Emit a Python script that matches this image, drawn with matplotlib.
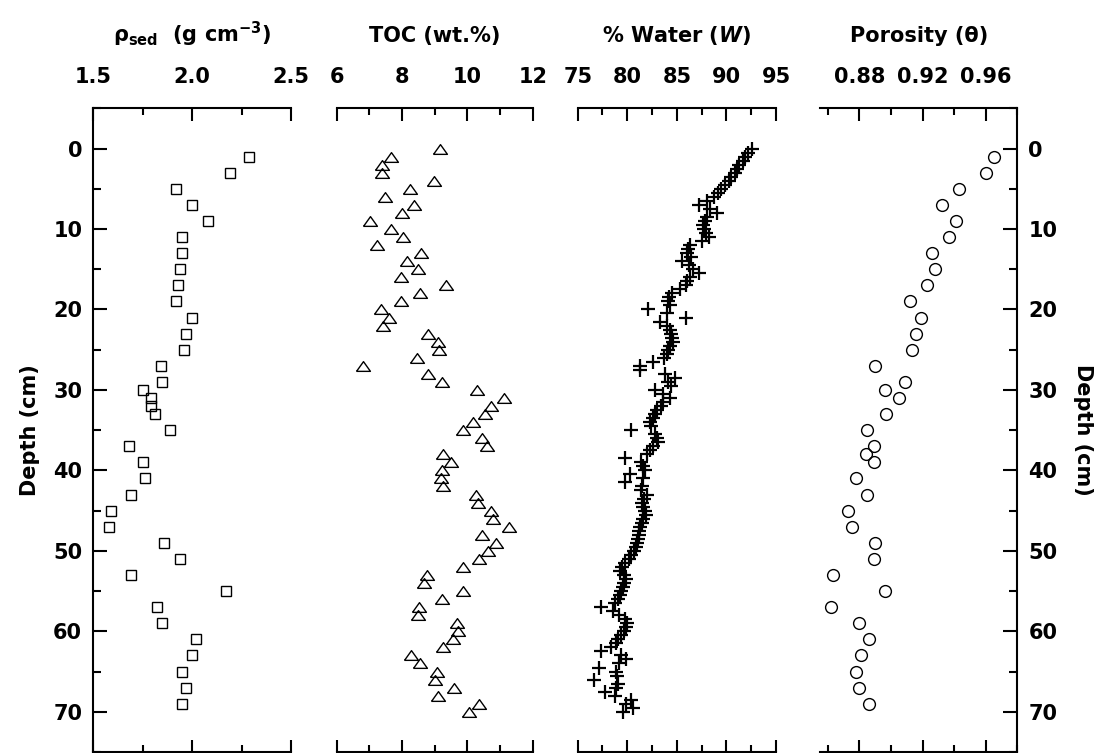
import matplotlib
matplotlib.use('Agg')
import matplotlib.pyplot as plt
import numpy as np
from matplotlib.ticker import MultipleLocator, FormatStrFormatter

# sediment density (g cm-3) vs depth (cm)
rho_depth = [1, 3, 5, 7, 9, 11, 13, 15, 17, 19, 21, 23, 25, 27, 29, 30, 31, 32, 33,
             35, 37, 39, 41, 43, 45, 47, 49, 51, 53, 55, 57, 59, 61, 63, 65, 67, 69]
rho_sed = [2.29, 2.19, 1.92, 2.00, 2.08, 1.95, 1.95, 1.94, 1.93, 1.92, 2.00, 1.97, 1.96,
           1.84, 1.85, 1.75, 1.79, 1.79, 1.81, 1.89, 1.68, 1.75, 1.76, 1.69, 1.59, 1.58,
           1.86, 1.94, 1.69, 2.17, 1.82, 1.85, 2.02, 2.00, 1.95, 1.97, 1.95]

# total organic carbon, one sample per cm
toc_depth = np.arange(0, 71)
toc = [9.16, 7.65, 7.38, 7.38, 8.99, 8.24, 7.47, 8.38, 8.00, 7.02,
       7.65, 8.04, 7.23, 8.57, 8.14, 8.50, 7.97, 9.35, 8.55, 7.97,
       7.35, 7.61, 7.41, 8.80, 9.11, 9.14, 8.47, 6.82, 8.80, 9.21,
       10.29, 11.13, 10.72, 10.54, 10.16, 9.88, 10.44, 10.61, 9.24, 9.50,
       9.23, 9.19, 9.24, 10.26, 10.34, 10.71, 10.79, 11.28, 10.45, 10.88,
       10.63, 10.35, 9.88, 8.75, 8.68, 9.88, 9.23, 8.53, 8.48, 9.69,
       9.72, 9.55, 9.24, 8.28, 8.55, 9.08, 9.01, 9.60, 9.11, 10.36,
       10.06]

# water content, one sample per 0.5 cm
water_depth = np.arange(0, 70.5, 0.5)
water = [92.6, 92.2, 91.9, 91.7, 91.3, 91.1, 90.9, 90.5, 90.3, 89.9,
         89.5, 89.1, 88.7, 88.0, 87.2, 88.3, 89.0, 88.0, 87.8, 87.6,
         87.7, 87.9, 88.2, 87.5, 86.3, 86.1, 86.0, 86.4, 85.5, 86.2,
         86.6, 87.2, 86.3, 86.0, 85.9, 85.3, 84.5, 84.2, 84.1, 84.3,
         82.1, 84.0, 85.9, 83.3, 84.0, 84.3, 84.4, 84.5, 84.6, 84.3,
         84.1, 84.0, 83.7, 82.6, 81.3, 81.3, 83.8, 84.8, 84.1, 84.4,
         82.8, 83.6, 84.3, 83.6, 83.4, 83.0, 82.8, 82.6, 82.3, 82.4,
         80.4, 82.8, 83.0, 83.1, 82.6, 82.3, 82.0, 79.8, 81.4, 81.6,
         81.8, 80.3, 81.6, 79.8, 81.5, 81.4, 82.0, 81.7, 81.5, 81.6,
         81.8, 81.9, 81.6, 81.5, 81.3, 81.2, 81.2, 81.1, 81.0, 80.9,
         80.7, 80.4, 80.2, 79.8, 79.5, 79.3, 79.7, 79.9, 79.7, 79.6,
         79.4, 79.3, 79.1, 78.8, 77.4, 78.6, 79.2, 79.8, 80.0, 79.9,
         79.7, 79.4, 79.1, 78.9, 78.4, 77.3, 79.4, 79.9, 79.2, 77.1,
         78.9, 79.0, 76.6, 79.1, 78.9, 77.8, 78.8, 80.4, 79.9, 80.6,
         79.6]

# porosity
por_depth = [1, 3, 5, 7, 9, 11, 13, 15, 17, 19, 21, 23, 25, 27, 29, 30, 31, 33, 35,
             37, 38, 39, 41, 43, 45, 47, 49, 51, 53, 55, 57, 59, 61, 63, 65, 67, 69]
porosity = [0.965, 0.960, 0.943, 0.932, 0.941, 0.937, 0.926, 0.928, 0.923, 0.912,
            0.919, 0.916, 0.913, 0.890, 0.909, 0.896, 0.905, 0.897, 0.885, 0.889,
            0.884, 0.889, 0.878, 0.885, 0.873, 0.875, 0.890, 0.889, 0.863, 0.896,
            0.862, 0.880, 0.886, 0.881, 0.878, 0.880, 0.886]

plt.rcParams['font.family'] = ['DejaVu Sans']
plt.rcParams['font.weight'] = 'bold'
plt.rcParams['mathtext.fontset'] = 'custom'
plt.rcParams['mathtext.rm'] = 'DejaVu Sans:bold'
plt.rcParams['mathtext.it'] = 'DejaVu Sans:italic:bold'
plt.rcParams['mathtext.bf'] = 'DejaVu Sans:bold'
plt.rcParams['mathtext.default'] = 'rm'

W, H = 1100, 753
fig = plt.figure(figsize=(W / 100, H / 100), dpi=100)

TOP, BOTTOM = 108.3, 752.0


def add_panel(x0, x1):
    return fig.add_axes([x0 / W, (H - BOTTOM) / H, (x1 - x0) / W, (BOTTOM - TOP) / H])


# flattened open triangle
tri = [(-1, -0.7), (1, -0.7), (0, 0.7), (-1, -0.7)]

panels = [
    dict(pos=(93.3, 291.0), xlim=(1.5, 2.5), major=0.5, minor=0.25, fmt='%.1f',
         title=r'ρ$_{sed}$  (g cm$^{-3}$)', x=rho_sed, y=rho_depth,
         marker='s', ms=7, mew=1.0),
    dict(pos=(336.7, 532.7), xlim=(6, 12), major=2, minor=1, fmt='%d',
         title='TOC (wt.%)', x=toc, y=toc_depth,
         marker=tri, ms=10, mew=1.0),
    dict(pos=(577.7, 776.0), xlim=(75, 95), major=5, minor=2.5, fmt='%d',
         title=r'% Water ($\mathit{W}$)', x=water, y=water_depth,
         marker='+', ms=10, mew=1.6),
    dict(pos=(820.0, 1017.3), xlim=(0.855, 0.98), major=0.04, minor=0.02, fmt='%.2f',
         title='Porosity (θ)', x=porosity, y=por_depth,
         marker='o', ms=8.5, mew=1.0),
]

axes = []
for i, p in enumerate(panels):
    ax = add_panel(*p['pos'])
    axes.append(ax)
    ax.plot(p['x'], p['y'], linestyle='none', marker=p['marker'], ms=p['ms'],
            mew=p['mew'], mfc='none', mec='black', color='black', clip_on=False)
    ax.set_xlim(*p['xlim'])
    ax.set_ylim(75, -5)

    if p['xlim'][0] == 0.855:
        ax.xaxis.set_major_locator(plt.FixedLocator([0.88, 0.92, 0.96]))
        ax.xaxis.set_minor_locator(plt.FixedLocator([0.86, 0.90, 0.94, 0.98]))
    else:
        ax.xaxis.set_major_locator(MultipleLocator(p['major']))
        ax.xaxis.set_minor_locator(MultipleLocator(p['minor']))
    ax.xaxis.set_major_formatter(FormatStrFormatter(p['fmt']))
    ax.yaxis.set_major_locator(MultipleLocator(10))
    ax.yaxis.set_minor_locator(MultipleLocator(5))

    ax.tick_params(axis='x', which='both', direction='in', top=True, bottom=True,
                   labeltop=True, labelbottom=False, width=1.5, labelsize=15, pad=15)
    ax.tick_params(axis='x', which='major', length=9)
    ax.tick_params(axis='x', which='minor', length=5)
    ax.tick_params(axis='y', which='both', direction='in', left=(i == 0), right=(i == 3),
                   labelleft=(i == 0), labelright=(i == 3), width=1.5, labelsize=15, pad=8)
    ax.tick_params(axis='y', which='major', length=10)
    ax.tick_params(axis='y', which='minor', length=6)

    for side, sp in ax.spines.items():
        sp.set_linewidth(1.5)
    ax.spines['left'].set_visible(i == 0)
    ax.spines['right'].set_visible(i == 3)

    ax.text(0.5, 1.103, p['title'], transform=ax.transAxes, ha='center',
            va='baseline', fontsize=15, fontweight='bold')

axes[0].set_ylabel('Depth (cm)', fontsize=15, fontweight='bold', va='center')
axes[0].yaxis.set_label_coords(-0.32, 0.5)
axes[3].yaxis.set_label_position('right')
axes[3].set_ylabel('Depth (cm)', fontsize=15, fontweight='bold', rotation=-90, va='center')
axes[3].yaxis.set_label_coords(1.333, 0.5)

fig.savefig('out.png', dpi=100)
